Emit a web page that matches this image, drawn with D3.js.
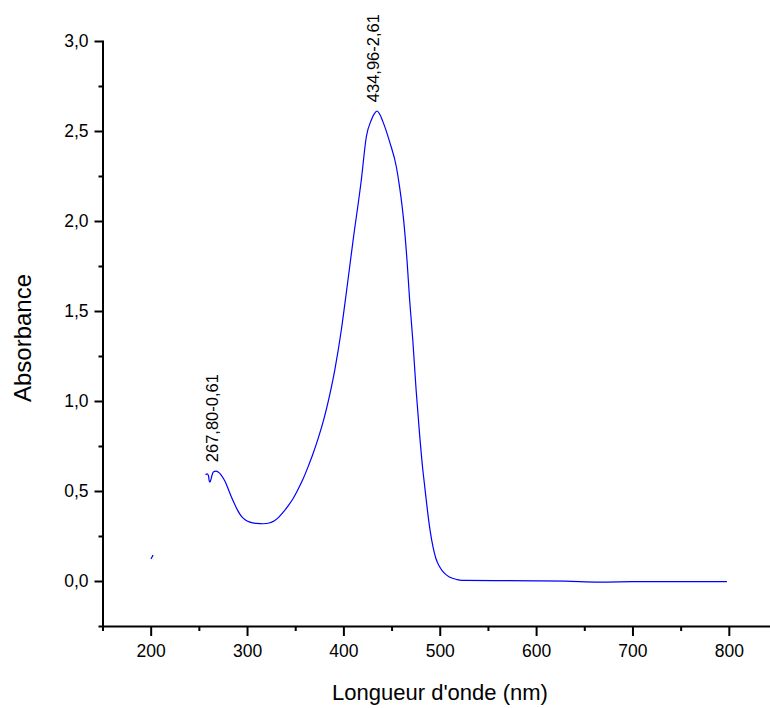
<!DOCTYPE html>
<html>
<head>
<meta charset="utf-8">
<script src="https://cdn.jsdelivr.net/npm/d3@7"></script>
<style>
  body { margin: 0; background: #fff; }
  svg { display: block; }
</style>
</head>
<body>
<div id="chart"></div>
<script>
// data
const stubWavelength = [200.3, 201.4, 202.4];
const stubAbsorbance = [0.122, 0.133, 0.144];

const wavelength = [
  257, 258.5, 260, 261, 262, 263.5, 265, 267.8, 270, 273, 277, 282, 286,
  290, 294, 298, 303, 310, 317, 323, 328, 333, 338, 343, 348, 353, 358,
  363, 368, 374, 380, 385, 391, 398, 403, 410, 418.6, 423.8, 429, 432,
  435, 438, 441, 448, 455, 458.3, 462.5, 466, 468.7, 472, 475.5, 479,
  482, 484.5, 487.5, 490, 493, 496, 500, 505, 510, 518, 527, 560, 600,
  631, 665, 700, 740, 770, 798
];
const absorbance = [
  0.59, 0.595, 0.585, 0.55, 0.555, 0.585, 0.605, 0.61, 0.605, 0.59, 0.555,
  0.49, 0.44, 0.395, 0.36, 0.34, 0.327, 0.32, 0.318, 0.322, 0.333, 0.355,
  0.385, 0.42, 0.46, 0.51, 0.565, 0.63, 0.7, 0.795, 0.905, 1.015, 1.17,
  1.4, 1.6, 1.89, 2.228, 2.468, 2.561, 2.595, 2.611, 2.59, 2.552, 2.44,
  2.3, 2.19, 2.006, 1.783, 1.565, 1.34, 1.06, 0.82, 0.64, 0.52, 0.38,
  0.28, 0.19, 0.125, 0.078, 0.042, 0.022, 0.008, 0.003, 0.002, 0.001,
  -0.001, -0.006, -0.004, -0.003, -0.004, -0.004
];

const xTicks = [200, 300, 400, 500, 600, 700, 800];
const xMinorTicks = [150, 250, 350, 450, 550, 650, 750];
const yTicks = [0, 0.5, 1, 1.5, 2, 2.5, 3];
const yMinorTicks = [-0.25, 0.25, 0.75, 1.25, 1.75, 2.25, 2.75];

const peakLabels = ['434,96-2,61', '267,80-0,61'];
const peakWavelength = [434.96, 267.8];
const peakAbsorbance = [2.61, 0.61];

const xTitle = 'Longueur d\'onde (nm)';
const yTitle = 'Absorbance';

// chart
const option = {
  width: 770,
  height: 708,
  left: 102.5,
  right: 777,
  top: 41,
  bottom: 626,
  font: '"Liberation Sans", Arial, sans-serif',
  color: '#0000ff'
};

const x = d3.scaleLinear().domain([150, 850]).range([option.left, option.right]);
const y = d3.scaleLinear().domain([-0.25, 3]).range([option.bottom, option.top]);
const comma = (v) => d3.format('.1f')(v).replace('.', ',');

const svg = d3.select('#chart')
    .append('svg')
    .attr('width', option.width)
    .attr('height', option.height)
    .attr('font-family', option.font);

const styleAxis = (g) => {
  g.selectAll('path, line').attr('stroke', '#000').attr('stroke-width', 2);
  g.selectAll('text').attr('font-size', 17.5).attr('fill', '#000');
  g.select('.domain').attr('stroke-linecap', 'square');
};

// minor ticks first so the major axis sits on top
svg.append('g')
    .attr('transform', `translate(0,${option.bottom})`)
    .call(d3.axisBottom(x).tickValues(xMinorTicks).tickSize(5).tickFormat(''))
    .call(styleAxis)
    .call((g) => g.select('.domain').remove());

svg.append('g')
    .attr('transform', `translate(0,${option.bottom})`)
    .call(d3.axisBottom(x).tickValues(xTicks).tickSize(10).tickSizeOuter(0)
        .tickPadding(9).tickFormat(d3.format('d')))
    .call(styleAxis);

svg.append('g')
    .attr('transform', `translate(${option.left},0)`)
    .call(d3.axisLeft(y).tickValues(yMinorTicks).tickSize(4).tickFormat(''))
    .call(styleAxis)
    .call((g) => g.select('.domain').remove());

svg.append('g')
    .attr('transform', `translate(${option.left},0)`)
    .call(d3.axisLeft(y).tickValues(yTicks).tickSize(8).tickSizeOuter(0)
        .tickPadding(6).tickFormat(comma))
    .call(styleAxis);

const line = d3.line()
    .x((d) => x(d[0]))
    .y((d) => y(d[1]))
    .curve(d3.curveMonotoneX);

[
  d3.zip(stubWavelength, stubAbsorbance),
  d3.zip(wavelength, absorbance)
].forEach((points) => {
  svg.append('path')
      .datum(points)
      .attr('fill', 'none')
      .attr('stroke', option.color)
      .attr('stroke-width', 1.2)
      .attr('d', line);
});

svg.append('g')
    .selectAll('text')
    .data(d3.zip(peakWavelength, peakAbsorbance, peakLabels))
    .join('text')
    .attr('transform', (d) => `translate(${x(d[0]) + 1.5},${y(d[1]) - 9}) rotate(-90)`)
    .attr('font-size', 16.5)
    .attr('fill', '#000')
    .text((d) => d[2]);

svg.append('text')
    .attr('x', 440)
    .attr('y', 700)
    .attr('text-anchor', 'middle')
    .attr('font-size', 22)
    .text(xTitle);

svg.append('text')
    .attr('transform', 'translate(31,338) rotate(-90)')
    .attr('text-anchor', 'middle')
    .attr('font-size', 24)
    .text(yTitle);
</script>
</body>
</html>
